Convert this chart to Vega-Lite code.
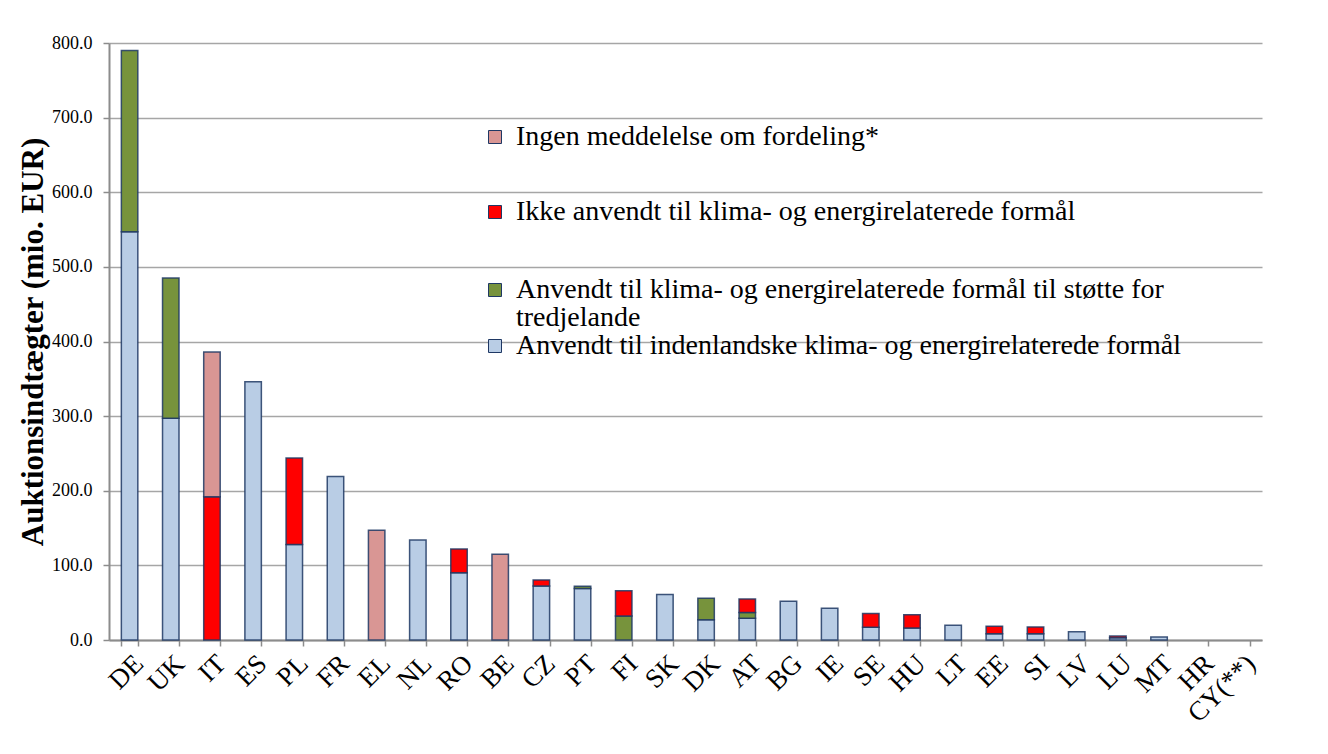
{
  "$schema": "https://vega.github.io/schema/vega-lite/v6.json",
  "width": 1153,
  "height": 597,
  "autosize": {"type": "none"},
  "padding": {"left": 109, "top": 43, "right": 66, "bottom": 114},
  "background": "white",
  "config": {
    "font": "Liberation Serif",
    "view": {"stroke": null},
    "axis": {"labelFont": "Liberation Serif", "titleFont": "Liberation Serif"},
    "legend": {"labelFont": "Liberation Serif", "titleFont": "Liberation Serif"}
  },
  "data": {
    "values": [
      {"land": "DE", "kategori": "Anvendt til indenlandske klima- og energirelaterede formål", "mio": 547},
      {"land": "DE", "kategori": "Anvendt til klima- og energirelaterede formål til støtte for tredjelande", "mio": 243},
      {"land": "UK", "kategori": "Anvendt til indenlandske klima- og energirelaterede formål", "mio": 297},
      {"land": "UK", "kategori": "Anvendt til klima- og energirelaterede formål til støtte for tredjelande", "mio": 188},
      {"land": "IT", "kategori": "Ikke anvendt til klima- og energirelaterede formål", "mio": 192},
      {"land": "IT", "kategori": "Ingen meddelelse om fordeling*", "mio": 194},
      {"land": "ES", "kategori": "Anvendt til indenlandske klima- og energirelaterede formål", "mio": 346},
      {"land": "PL", "kategori": "Anvendt til indenlandske klima- og energirelaterede formål", "mio": 128},
      {"land": "PL", "kategori": "Ikke anvendt til klima- og energirelaterede formål", "mio": 116},
      {"land": "FR", "kategori": "Anvendt til indenlandske klima- og energirelaterede formål", "mio": 219},
      {"land": "EL", "kategori": "Ingen meddelelse om fordeling*", "mio": 147},
      {"land": "NL", "kategori": "Anvendt til indenlandske klima- og energirelaterede formål", "mio": 134},
      {"land": "RO", "kategori": "Anvendt til indenlandske klima- og energirelaterede formål", "mio": 90},
      {"land": "RO", "kategori": "Ikke anvendt til klima- og energirelaterede formål", "mio": 32},
      {"land": "BE", "kategori": "Ingen meddelelse om fordeling*", "mio": 115},
      {"land": "CZ", "kategori": "Anvendt til indenlandske klima- og energirelaterede formål", "mio": 72.5},
      {"land": "CZ", "kategori": "Ikke anvendt til klima- og energirelaterede formål", "mio": 8},
      {"land": "PT", "kategori": "Anvendt til indenlandske klima- og energirelaterede formål", "mio": 69},
      {"land": "PT", "kategori": "Anvendt til klima- og energirelaterede formål til støtte for tredjelande", "mio": 3},
      {"land": "FI", "kategori": "Anvendt til klima- og energirelaterede formål til støtte for tredjelande", "mio": 32},
      {"land": "FI", "kategori": "Ikke anvendt til klima- og energirelaterede formål", "mio": 34},
      {"land": "SK", "kategori": "Anvendt til indenlandske klima- og energirelaterede formål", "mio": 61},
      {"land": "DK", "kategori": "Anvendt til indenlandske klima- og energirelaterede formål", "mio": 27},
      {"land": "DK", "kategori": "Anvendt til klima- og energirelaterede formål til støtte for tredjelande", "mio": 29},
      {"land": "AT", "kategori": "Anvendt til indenlandske klima- og energirelaterede formål", "mio": 29},
      {"land": "AT", "kategori": "Anvendt til klima- og energirelaterede formål til støtte for tredjelande", "mio": 8},
      {"land": "AT", "kategori": "Ikke anvendt til klima- og energirelaterede formål", "mio": 18},
      {"land": "BG", "kategori": "Anvendt til indenlandske klima- og energirelaterede formål", "mio": 52},
      {"land": "IE", "kategori": "Anvendt til indenlandske klima- og energirelaterede formål", "mio": 42.5},
      {"land": "SE", "kategori": "Anvendt til indenlandske klima- og energirelaterede formål", "mio": 17},
      {"land": "SE", "kategori": "Ikke anvendt til klima- og energirelaterede formål", "mio": 18.5},
      {"land": "HU", "kategori": "Anvendt til indenlandske klima- og energirelaterede formål", "mio": 16},
      {"land": "HU", "kategori": "Ikke anvendt til klima- og energirelaterede formål", "mio": 18},
      {"land": "LT", "kategori": "Anvendt til indenlandske klima- og energirelaterede formål", "mio": 19.7},
      {"land": "EE", "kategori": "Anvendt til indenlandske klima- og energirelaterede formål", "mio": 8.5},
      {"land": "EE", "kategori": "Ikke anvendt til klima- og energirelaterede formål", "mio": 10},
      {"land": "SI", "kategori": "Anvendt til indenlandske klima- og energirelaterede formål", "mio": 8.5},
      {"land": "SI", "kategori": "Ikke anvendt til klima- og energirelaterede formål", "mio": 9},
      {"land": "LV", "kategori": "Anvendt til indenlandske klima- og energirelaterede formål", "mio": 11},
      {"land": "LU", "kategori": "Anvendt til indenlandske klima- og energirelaterede formål", "mio": 3},
      {"land": "LU", "kategori": "Ikke anvendt til klima- og energirelaterede formål", "mio": 2.3},
      {"land": "MT", "kategori": "Anvendt til indenlandske klima- og energirelaterede formål", "mio": 4}
    ]
  },
  "mark": {"type": "bar", "stroke": "#1f3864", "strokeWidth": 1.5, "strokeOpacity": 0.85},
  "encoding": {
    "x": {
      "field": "land",
      "type": "nominal",
      "sort": null,
      "scale": {
        "domain": ["DE", "UK", "IT", "ES", "PL", "FR", "EL", "NL", "RO", "BE", "CZ", "PT", "FI", "SK", "DK", "AT", "BG", "IE", "SE", "HU", "LT", "EE", "SI", "LV", "LU", "MT", "HR", "CY(**)"],
        "paddingInner": 0.6,
        "paddingOuter": 0.3
      },
      "axis": {
        "title": null,
        "labelAngle": -45,
        "labelFont": "Liberation Serif",
        "labelFontSize": 27,
        "labelColor": "black",
        "labelPadding": 4,
        "tickBand": "extent",
        "tickSize": 6,
        "tickColor": "#8c8c8c",
        "tickWidth": 1.5,
        "domainColor": "#8c8c8c",
        "domainWidth": 2,
        "grid": false
      }
    },
    "y": {
      "field": "mio",
      "type": "quantitative",
      "aggregate": "sum",
      "stack": "zero",
      "scale": {"domain": [0, 800], "nice": false},
      "axis": {
        "title": "Auktionsindtægter (mio. EUR)",
        "titleFont": "Liberation Serif",
        "titleFontSize": 31,
        "titleFontWeight": "bold",
        "titleColor": "black",
        "titlePadding": 2,
        "values": [0, 100, 200, 300, 400, 500, 600, 700, 800],
        "format": ".1f",
        "labelFont": "Liberation Serif",
        "labelFontSize": 18,
        "labelColor": "black",
        "labelPadding": 11,
        "tickSize": 6,
        "tickColor": "#8c8c8c",
        "tickWidth": 1.5,
        "domainColor": "#8c8c8c",
        "domainWidth": 2,
        "grid": true,
        "gridColor": "#a6a6a6",
        "gridWidth": 1.5
      }
    },
    "color": {
      "field": "kategori",
      "type": "nominal",
      "scale": {
        "domain": ["Ingen meddelelse om fordeling*", "Ikke anvendt til klima- og energirelaterede formål", "Anvendt til klima- og energirelaterede formål til støtte for tredjelande", "Anvendt til indenlandske klima- og energirelaterede formål"],
        "range": ["#d99694", "#ff0000", "#77933c", "#b9cde5"]
      },
      "legend": {
        "title": null,
        "orient": "none",
        "legendX": 372,
        "legendY": 80,
        "symbolType": "square",
        "symbolSize": 169,
        "symbolStrokeColor": "#1f3864",
        "symbolStrokeWidth": 1,
        "symbolOpacity": 1,
        "labelFont": "Liberation Serif",
        "labelFontSize": 28,
        "labelColor": "black",
        "labelLimit": 900,
        "labelOffset": 7,
        "rowPadding": 0,
        "labelExpr": "datum.value == 'Anvendt til klima- og energirelaterede formål til støtte for tredjelande' ? ['Anvendt til klima- og energirelaterede formål til støtte for', 'tredjelande'] : datum.value == 'Anvendt til indenlandske klima- og energirelaterede formål' ? datum.label : [datum.label, ' ']",
        "encode": {
          "labels": {
            "update": {
              "font": {"value": "Liberation Serif"},
              "lineHeight": {"signal": "datum.value == 'Ingen meddelelse om fordeling*' ? 47 : datum.value == 'Ikke anvendt til klima- og energirelaterede formål' ? 50 : 28"}
            }
          }
        }
      }
    },
    "order": {"field": "kategori", "sort": "ascending"}
  }
}
